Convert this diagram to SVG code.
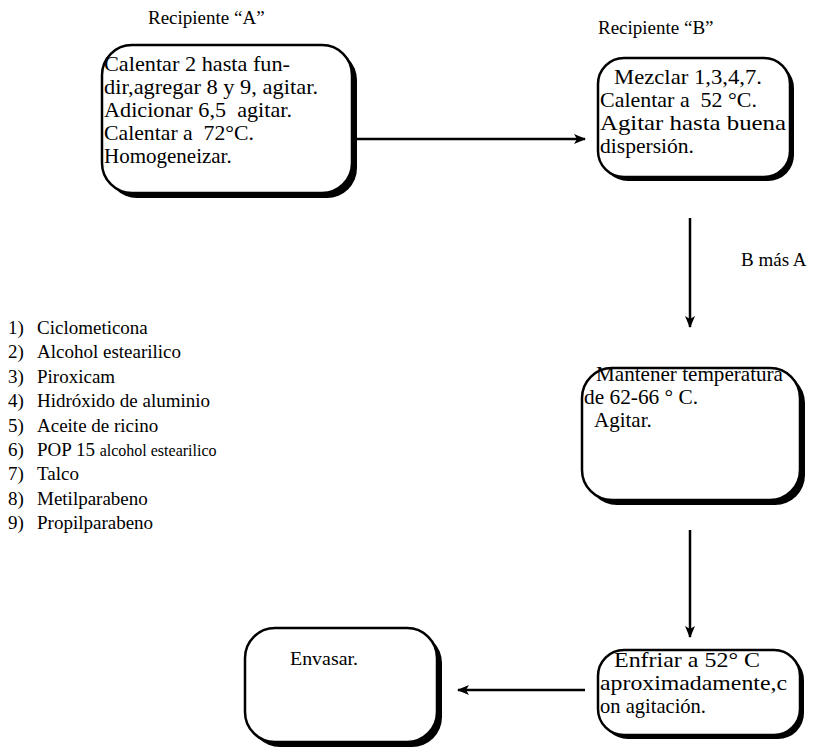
<svg xmlns="http://www.w3.org/2000/svg" width="816" height="753" viewBox="0 0 816 753">
<defs>
<style>
text{font-family:"Liberation Serif","Times New Roman",serif;font-size:19px;fill:#000}
.bt{font-size:21px;white-space:pre}
.sh{fill:#000}
.bx{fill:#fff;stroke:#000;stroke-width:2.5}
.ln{stroke:#000;stroke-width:2.5;fill:none}
.sm{font-size:16px}
</style>
<marker id="ah" viewBox="0 0 12 10" refX="11" refY="5" markerWidth="12" markerHeight="10" markerUnits="userSpaceOnUse" orient="auto">
<path d="M0,0 L12,5 L0,10 L3,5 Z" fill="#000"/>
</marker>
</defs>
<rect width="816" height="753" fill="#fff"/>
<text x="148" y="24">Recipiente “A”</text>
<text x="598" y="34">Recipiente “B”</text>
<g id="boxA">
<rect class="sh" x="107" y="50" width="250" height="148" rx="30"/>
<rect class="bx" x="102" y="45" width="250" height="148" rx="30"/>
<text class="bt" x="104" y="71" textLength="186" lengthAdjust="spacingAndGlyphs">Calentar 2 hasta fun-</text>
<text class="bt" x="104" y="94" textLength="214" lengthAdjust="spacingAndGlyphs">dir,agregar 8 y 9, agitar.</text>
<text class="bt" x="104" y="117" xml:space="preserve" textLength="188" lengthAdjust="spacingAndGlyphs">Adicionar 6,5  agitar.</text>
<text class="bt" x="104" y="140" xml:space="preserve" textLength="150" lengthAdjust="spacingAndGlyphs">Calentar a  72°C.</text>
<text class="bt" x="104" y="163">Homogeneizar.</text>
</g>
<g id="boxB">
<rect class="sh" x="602" y="62" width="192" height="119" rx="26"/>
<rect class="bx" x="598" y="58" width="192" height="119" rx="26"/>
<text class="bt" x="614" y="84" textLength="148" lengthAdjust="spacingAndGlyphs">Mezclar 1,3,4,7.</text>
<text class="bt" x="600" y="107" xml:space="preserve" textLength="157" lengthAdjust="spacingAndGlyphs">Calentar a  52 °C.</text>
<text class="bt" x="600" y="130" textLength="186" lengthAdjust="spacingAndGlyphs">Agitar hasta buena</text>
<text class="bt" x="600" y="153" textLength="94" lengthAdjust="spacingAndGlyphs">dispersión.</text>
</g>
<g id="boxMantener">
<rect class="sh" x="587" y="373" width="218" height="132" rx="30"/>
<rect class="bx" x="582" y="368" width="218" height="132" rx="30"/>
<text class="bt" x="596" y="381" textLength="187" lengthAdjust="spacingAndGlyphs">Mantener temperatura</text>
<text class="bt" x="584" y="404" textLength="114" lengthAdjust="spacingAndGlyphs">de 62-66 ° C.</text>
<text class="bt" x="594" y="427">Agitar.</text>
</g>
<g id="boxEnfriar">
<rect class="sh" x="602" y="654" width="202" height="85" rx="26"/>
<rect class="bx" x="598" y="650" width="202" height="85" rx="26"/>
<text class="bt" x="614" y="667" textLength="146" lengthAdjust="spacingAndGlyphs">Enfriar a 52° C</text>
<text class="bt" x="600" y="690" textLength="187" lengthAdjust="spacingAndGlyphs">aproximadamente,c</text>
<text class="bt" x="600" y="713" textLength="106" lengthAdjust="spacingAndGlyphs">on agitación.</text>
</g>
<g id="boxEnvasar">
<rect class="sh" x="250" y="633" width="192" height="114" rx="30"/>
<rect class="bx" x="245" y="628" width="192" height="114" rx="30"/>
<text x="290" y="665" fill="#222" textLength="68" lengthAdjust="spacingAndGlyphs">Envasar.</text>
</g>
<g id="connectors">
<line class="ln" x1="357" y1="139" x2="585" y2="139" marker-end="url(#ah)"/>
<line class="ln" x1="690" y1="218" x2="690" y2="327" marker-end="url(#ah)"/>
<line class="ln" x1="690" y1="530" x2="690" y2="637" marker-end="url(#ah)"/>
<line class="ln" x1="585" y1="690" x2="458" y2="690" marker-end="url(#ah)"/>
</g>
<text x="741" y="266" font-size="21.5">B más A</text>
<g id="list">
<text x="8" y="334">1)</text><text x="37" y="334">Ciclometicona</text>
<text x="8" y="358">2)</text><text x="37" y="358">Alcohol estearilico</text>
<text x="8" y="383">3)</text><text x="37" y="383">Piroxicam</text>
<text x="8" y="407">4)</text><text x="37" y="407">Hidróxido de aluminio</text>
<text x="8" y="432">5)</text><text x="37" y="432">Aceite de ricino</text>
<text x="8" y="456">6)</text><text x="37" y="456">POP 15 <tspan class="sm">alcohol estearilico</tspan></text>
<text x="8" y="480">7)</text><text x="37" y="480">Talco</text>
<text x="8" y="505">8)</text><text x="37" y="505">Metilparabeno</text>
<text x="8" y="529">9)</text><text x="37" y="529">Propilparabeno</text>
</g>
</svg>
